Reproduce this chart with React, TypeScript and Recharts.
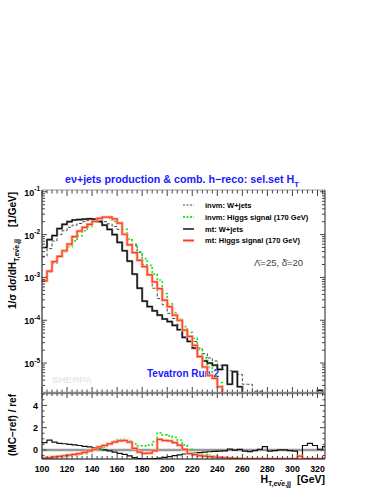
import { LineChart, Line, XAxis, YAxis, ReferenceLine } from "recharts";

const FONT = '"Liberation Sans", Arial, Helvetica, sans-serif';
const W = 382;
const H = 494;
// frame edges in page pixels
const LEFT = 42;
const RIGHT = 325;
const TOP_Y0 = 190;
const TOP_Y1 = 393;
const RAT_Y1 = 459;

const X_MIN = 100;
const X_MAX = 326;
const Y_LOG_MIN = 2e-6;
const Y_LOG_MAX = 0.11;
const R_MIN = -0.81;
const R_MAX = 5.11;
const FLOOR = 1e-7; // empty bins, drawn below the frame

// lower edges of the 4 GeV bins
const binEdges = [
  100, 104, 108, 112, 116, 120, 124, 128, 132, 136, 140, 144, 148, 152, 156, 160, 164, 168, 172,
  176, 180, 184, 188, 192, 196, 200, 204, 208, 212, 216, 220, 224, 228, 232, 236, 240, 244, 248,
  252, 256, 260, 264, 268, 272, 276, 280, 284, 288, 292, 296, 300, 304, 308, 312, 316, 320, 324,
];
const lastEdge = 328;

// 1/sigma dsigma/dH [1/GeV]
const invmWjets = [
  3.1e-3, 4.7e-3, 7.1e-3, 1.0e-2, 1.23e-2, 1.48e-2, 1.66e-2, 1.82e-2, 2.0e-2, 2.14e-2,
  2.19e-2, 2.09e-2, 2.0e-2, 1.78e-2, 1.55e-2, 1.32e-2, 1.05e-2, 7.6e-3, 5.5e-3, 3.8e-3,
  2.0e-3, 1.12e-3, 5.6e-4, 3.2e-4, 2.3e-4, 1.45e-4, 1.1e-4, 7.8e-5, 5.9e-5, 4.4e-5,
  3.2e-5, 2.24e-5, 1.66e-5, 1.32e-5, 1.12e-5, 8.9e-6, 7.1e-6, 6.6e-6, 6.3e-6, 5.4e-6,
  3.2e-6, 3.2e-6, 2.2e-6, 2.2e-6, 0, 0, 0, 0, 0, 0,
  0, 0, 0, 0, 0, 0, 0,
];
const invmHiggs = [
  8.3e-4, 1.32e-3, 2.14e-3, 3.09e-3, 3.98e-3, 5.25e-3, 7.1e-3, 9.3e-3, 1.23e-2, 1.55e-2,
  2.04e-2, 2.19e-2, 2.57e-2, 2.4e-2, 2.04e-2, 1.91e-2, 1.32e-2, 7.9e-3, 6.0e-3, 3.98e-3,
  2.75e-3, 1.91e-3, 1.2e-3, 8.7e-4, 4.2e-4, 2.4e-4, 1.51e-4, 1.05e-4, 7.1e-5, 5.2e-5,
  3.8e-5, 2.09e-5, 1.32e-5, 7.9e-6, 5.0e-6, 3.5e-6, 0, 0, 0, 0,
  0, 0, 0, 0, 0, 0, 0, 0, 0, 0,
  0, 0, 0, 0, 0, 0, 0,
];
const mtWjets = [
  5.0e-3, 7.6e-3, 9.5e-3, 1.38e-2, 1.74e-2, 2.0e-2, 2.19e-2, 2.24e-2, 2.29e-2, 2.34e-2,
  2.29e-2, 2.0e-2, 1.66e-2, 1.32e-2, 1.0e-2, 6.6e-3, 4.2e-3, 2.4e-3, 1.2e-3, 5.6e-4,
  2.8e-4, 2.09e-4, 1.66e-4, 1.32e-4, 1.07e-4, 9.3e-5, 7.6e-5, 6.0e-5, 4.0e-5, 3.2e-5,
  2.24e-5, 1.41e-5, 1.12e-5, 1.0e-5, 8.9e-6, 7.1e-6, 8.9e-6, 3.2e-6, 6.3e-6, 2.8e-6,
  0, 0, 0, 0, 0, 0, 0, 0, 0, 0,
  0, 0, 0, 0, 0, 2.3e-6, 0,
];
const mtHiggs = [
  8.3e-4, 1.41e-3, 2.34e-3, 3.09e-3, 4.2e-3, 6.0e-3, 9.0e-3, 1.2e-2, 1.48e-2, 1.74e-2,
  2.04e-2, 2.4e-2, 2.57e-2, 2.57e-2, 2.34e-2, 1.86e-2, 1.02e-2, 5.75e-3, 3.8e-3, 2.51e-3,
  1.78e-3, 1.15e-3, 7.9e-4, 5.5e-4, 2.95e-4, 2.09e-4, 1.32e-4, 1.0e-4, 5.9e-5, 4.2e-5,
  2.6e-5, 1.41e-5, 8.1e-6, 5.2e-6, 4.4e-6, 2.8e-6, 0, 0, 0, 0,
  0, 0, 0, 0, 0, 0, 0, 0, 0, 0,
  0, 0, 0, 0, 0, 0, 0,
];

// (MC - ref) / ref, ref = invm: W+jets
const ratioMtWjets = [
  0.65, 0.89, 0.7, 0.6, 0.56, 0.5, 0.45, 0.4, 0.33, 0.27,
  0.18, 0.09, 0.0, -0.09, -0.2, -0.3, -0.4, -0.53, -0.68, -0.78,
  -0.8, -0.8, -0.78, -0.74, -0.66, -0.59, -0.5, -0.44, -0.36, -0.3,
  -0.27, -0.24, -0.2, -0.16, -0.13, -0.1, -0.08, 0.08, -0.02, 0.05,
  -0.1, -0.15, -0.05, 0.05, 0.3, -0.1, -0.05, 0.0, 0.0, -0.05,
  -0.1, -0.55, 0.4, 0.59, 0.4, 0.05, 0.3,
];
const ratioInvmHiggs = [
  -0.74, -0.72, -0.68, -0.64, -0.6, -0.54, -0.47, -0.4, -0.32, -0.16,
  0.02, 0.1, 0.22, 0.55, 0.78, 0.92, 0.95, 0.8, 0.55, 0.38,
  0.36, 0.44, 0.74, 1.54, 1.35, 1.25, 1.13, 0.89, 0.44, 0.06,
  -0.3, -0.36, -0.42, -0.48, -0.55, -0.62, -0.68, -0.72, -0.75, -0.77,
  -0.8, -0.8, -0.8, -0.8, -0.8, -0.8, -0.8, -0.8, -0.8, -0.8,
  -0.8, -0.8, -0.8, -0.8, -0.8, -0.8, -0.72,
];
const ratioMtHiggs = [
  -0.72, -0.68, -0.62, -0.57, -0.52, -0.46, -0.4, -0.32, -0.22, -0.08,
  0.08, 0.28, 0.4, 0.55, 0.7, 0.82, 0.85, 0.7, 0.15, -0.2,
  -0.3, -0.28, -0.08, 0.95, 0.85, 0.82, 0.65, 0.44, 0.06, -0.32,
  -0.42, -0.5, -0.55, -0.59, -0.63, -0.66, -0.7, -0.73, -0.75, -0.77,
  -0.8, -0.8, -0.8, -0.8, -0.8, -0.8, -0.8, -0.8, -0.8, -0.8,
  -0.8, -0.55, -0.8, -0.8, -0.8, -0.8, -0.74,
];

const xLabels = [100, 120, 140, 160, 180, 200, 220, 240, 260, 280, 300, 320];
const logTicks = [
  2e-6, 3e-6, 4e-6, 5e-6, 6e-6, 7e-6, 8e-6, 9e-6,
  1e-5, 2e-5, 3e-5, 4e-5, 5e-5, 6e-5, 7e-5, 8e-5, 9e-5,
  1e-4, 2e-4, 3e-4, 4e-4, 5e-4, 6e-4, 7e-4, 8e-4, 9e-4,
  1e-3, 2e-3, 3e-3, 4e-3, 5e-3, 6e-3, 7e-3, 8e-3, 9e-3,
  1e-2, 2e-2, 3e-2, 4e-2, 5e-2, 6e-2, 7e-2, 8e-2, 9e-2,
  1e-1,
];
const logMajor = [1e-5, 1e-4, 1e-3, 1e-2, 1e-1];
const logExp = ["-5", "-4", "-3", "-2", "-1"];
const ratioTicks = [-0.5, 0, 0.5, 1, 1.5, 2, 2.5, 3, 3.5, 4, 4.5, 5];
const ratioLabels = [0, 2, 4];

const legendItems = [
  { label: "invm: W+jets", key: "invmW" },
  { label: "invm: Higgs signal (170 GeV)", key: "invmH" },
  { label: "mt: W+jets", key: "mtW" },
  { label: "mt: Higgs signal (170 GeV)", key: "mtH" },
];

const pos = (v: number) => (v > 0 ? v : FLOOR);
const edges = [...binEdges, lastEdge];
const topRows = edges.map((x, i) => {
  const j = Math.min(i, binEdges.length - 1);
  return {
    x,
    invmW: pos(invmWjets[j]),
    invmH: pos(invmHiggs[j]),
    mtW: pos(mtWjets[j]),
    mtH: pos(mtHiggs[j]),
  };
});
const ratioRows = edges.map((x, i) => {
  const j = Math.min(i, binEdges.length - 1);
  return { x, mtW: ratioMtWjets[j], invmH: ratioInvmHiggs[j], mtH: ratioMtHiggs[j] };
});

const TICK = "#444";

const TopXTick = (props: any) => {
  const { x, payload } = props;
  const len = xLabels.includes(payload.value) ? 6 : 3.5;
  return (
    <g>
      <line x1={x} x2={x} y1={TOP_Y1} y2={TOP_Y1 - len} stroke={TICK} />
      <line x1={x} x2={x} y1={TOP_Y0} y2={TOP_Y0 + len} stroke={TICK} />
    </g>
  );
};

const LogTick = (props: any) => {
  const { y, payload } = props;
  const k = logMajor.indexOf(payload.value);
  const len = k >= 0 ? 5 : 3;
  return (
    <g>
      <line x1={LEFT} x2={LEFT + len} y1={y} y2={y} stroke={TICK} />
      <line x1={RIGHT} x2={RIGHT - len} y1={y} y2={y} stroke={TICK} />
      {k >= 0 && (
        <text x={LEFT - 2} y={y + 4} textAnchor="end" fontSize={9} fontWeight="bold" fontFamily={FONT} fill="#000">
          10<tspan dy={-4.5} fontSize={6.5}>{logExp[k]}</tspan>
        </text>
      )}
    </g>
  );
};

const RatioXTick = (props: any) => {
  const { x, payload } = props;
  const major = xLabels.includes(payload.value);
  const len = major ? 5 : 3;
  return (
    <g>
      <line x1={x} x2={x} y1={RAT_Y1} y2={RAT_Y1 - len} stroke={TICK} />
      <line x1={x} x2={x} y1={TOP_Y1} y2={TOP_Y1 + len} stroke={TICK} />
      {major && (
        <text x={x} y={RAT_Y1 + 13} textAnchor="middle" fontSize={8.8} fontWeight="bold" fontFamily={FONT} fill="#000">
          {payload.value}
        </text>
      )}
    </g>
  );
};

const RatioYTick = (props: any) => {
  const { y, payload } = props;
  const major = ratioLabels.includes(payload.value);
  const len = major ? 5 : 2.5;
  return (
    <g>
      <line x1={LEFT} x2={LEFT + len} y1={y} y2={y} stroke={TICK} />
      <line x1={RIGHT} x2={RIGHT - len} y1={y} y2={y} stroke={TICK} />
      {major && (
        <text x={LEFT - 4} y={y + 3.5} textAnchor="end" fontSize={9} fontWeight="bold" fontFamily={FONT} fill="#000">
          {payload.value}
        </text>
      )}
    </g>
  );
};

const common = { type: "stepAfter" as const, dot: false, activeDot: false, isAnimationActive: false };

const LegendSample = ({ k, y }: { k: string; y: number }) => {
  const x1 = 183;
  const x2 = 194;
  if (k === "invmW") return <line x1={x1} x2={x2} y1={y} y2={y} stroke="#444" strokeDasharray="2 1.5" />;
  if (k === "invmH") return <line x1={x1} x2={x2} y1={y} y2={y} stroke="#22e622" strokeWidth={1.8} strokeDasharray="2 1.5" />;
  if (k === "mtW") return <line x1={x1} x2={x2} y1={y} y2={y} stroke="#000" strokeWidth={1.4} />;
  return (
    <g>
      <line x1={x1} x2={x2} y1={y} y2={y} stroke="#ffab99" strokeWidth={3} />
      <line x1={x1} x2={x2} y1={y} y2={y} stroke="#ff3a1a" strokeWidth={1.2} />
    </g>
  );
};

export default function App() {
  const legendY = [205, 217, 229, 240.5];
  return (
    <div style={{ position: "absolute", left: 0, top: 0, width: W, height: H, background: "#fff", fontFamily: FONT }}>
      <svg width={W} height={H} style={{ position: "absolute", left: 0, top: 0 }} fontFamily={FONT}>
        <text x={65} y={183} fontSize={10.7} fontWeight="bold" fill="#1a1aff">
          {"eν+jets production & comb. h−reco: sel.set H"}
          <tspan dy={3.5} fontSize={7.5}>T</tspan>
        </text>
        <text transform="translate(16,309) rotate(-90)" fontSize={10} fontWeight="bold" fill="#000">
          1/σ dσ/dH
          <tspan dy={3} fontSize={7}>{"T,eν̄e,jj"}</tspan>
          <tspan dy={-3} dx={12}>[1/GeV]</tspan>
        </text>
        <text transform="translate(16,425) rotate(-90)" textAnchor="middle" fontSize={10} fontWeight="bold" fill="#000">
          (MC−ref) / ref
        </text>
        <text x={325} y={483} textAnchor="end" fontSize={10.5} fontWeight="bold" fill="#000">
          H<tspan dy={2.5} fontSize={7}>{"T,eν̄e,jj"}</tspan>
          <tspan dy={-2.5} dx={6}>[GeV]</tspan>
        </text>
        {legendItems.map((it, i) => (
          <g key={it.key}>
            <LegendSample k={it.key} y={legendY[i]} />
            <text x={205} y={legendY[i] + 2.5} fontSize={7.5} fontWeight="bold" fill="#000">
              {it.label}
            </text>
          </g>
        ))}
        <text x={254} y={266} fontSize={9.5} fill="#444">
          {"Λ̄=25, δ̄=20"}
        </text>
        <text x={147} y={377} fontSize={10} fontWeight="bold" fill="#1a1aff">
          Tevatron Run 2
        </text>
        <text x={52} y={383} fontSize={9.8} fontWeight="bold" fill="#e8e8e8">
          SHERPA
        </text>
      </svg>

      <div style={{ position: "absolute", left: 0, top: 0 }}>
        <LineChart width={W} height={H} data={topRows} margin={{ top: TOP_Y0, right: W - RIGHT, bottom: H - TOP_Y1 - 1, left: LEFT - 1 }}>
          <XAxis
            dataKey="x"
            type="number"
            domain={[X_MIN, X_MAX]}
            allowDataOverflow
            ticks={binEdges}
            interval={0}
            height={1}
            tickSize={0}
            tickMargin={0}
            tickLine={false}
            axisLine={false}
            tick={<TopXTick />}
          />
          <YAxis
            type="number"
            scale="log"
            domain={[Y_LOG_MIN, Y_LOG_MAX]}
            allowDataOverflow
            ticks={logTicks}
            interval={0}
            width={1}
            tickSize={0}
            tickMargin={0}
            tickLine={false}
            axisLine={{ stroke: "#000" }}
            tick={<LogTick />}
          />
          <ReferenceLine y={Y_LOG_MAX} stroke="#999" />
          <ReferenceLine x={X_MAX} stroke="#222" />
          <Line {...common} dataKey="invmW" stroke="#444" strokeWidth={1} strokeDasharray="3 2" />
          <Line {...common} dataKey="invmH" stroke="#22e622" strokeWidth={1.7} strokeDasharray="2 2" />
          <Line {...common} dataKey="mtW" stroke="#777" strokeWidth={2.2} />
          <Line {...common} dataKey="mtW" stroke="#000" strokeWidth={1} />
          <Line {...common} dataKey="mtH" stroke="#ffab99" strokeWidth={2.8} />
          <Line {...common} dataKey="mtH" stroke="#ff3a1a" strokeWidth={1.2} />
        </LineChart>
      </div>

      <div style={{ position: "absolute", left: 0, top: 0 }}>
        <LineChart width={W} height={H} data={ratioRows} margin={{ top: TOP_Y1, right: W - RIGHT, bottom: H - RAT_Y1 - 1, left: LEFT - 1 }}>
          <XAxis
            dataKey="x"
            type="number"
            domain={[X_MIN, X_MAX]}
            allowDataOverflow
            ticks={binEdges}
            interval={0}
            height={1}
            tickSize={0}
            tickMargin={0}
            tickLine={false}
            axisLine={{ stroke: "#000" }}
            tick={<RatioXTick />}
          />
          <YAxis
            type="number"
            domain={[R_MIN, R_MAX]}
            allowDataOverflow
            ticks={ratioTicks}
            interval={0}
            width={1}
            tickSize={0}
            tickMargin={0}
            tickLine={false}
            axisLine={{ stroke: "#000" }}
            tick={<RatioYTick />}
          />
          <ReferenceLine x={X_MAX} stroke="#222" />
          <ReferenceLine y={0} stroke="#999" strokeWidth={2.5} />
          <Line {...common} dataKey="mtW" stroke="#111" strokeWidth={1.2} />
          <Line {...common} dataKey="invmH" stroke="#22e622" strokeWidth={1.7} strokeDasharray="2 2" />
          <Line {...common} dataKey="mtH" stroke="#ffab99" strokeWidth={2.8} />
          <Line {...common} dataKey="mtH" stroke="#ff3a1a" strokeWidth={1.2} />
          <ReferenceLine y={R_MAX} stroke="#888" strokeWidth={2.5} />
        </LineChart>
      </div>
    </div>
  );
}
